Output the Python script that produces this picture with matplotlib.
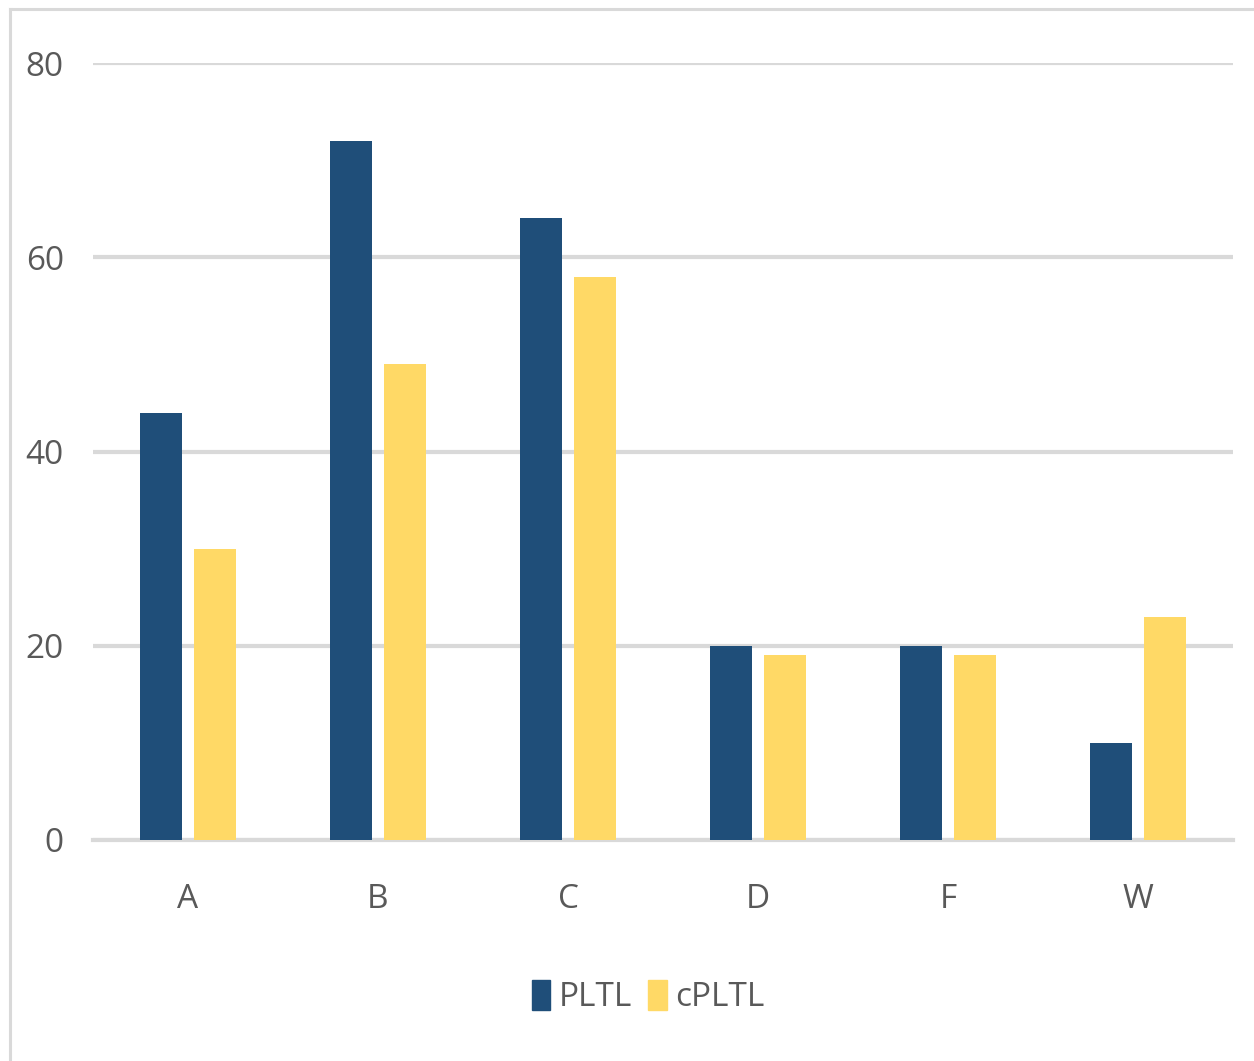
import matplotlib
matplotlib.use("Agg")
import matplotlib.pyplot as plt
from matplotlib import font_manager
from matplotlib.lines import Line2D
from matplotlib.patches import Patch
import numpy as np

categories = ["A", "B", "C", "D", "F", "W"]
pltl = [44, 72, 64, 20, 20, 10]
cpltl = [30, 49, 58, 19, 19, 23]
yticks = [0, 20, 40, 60, 80]

fam = "DejaVu Sans"
for cand in ["Liberation Sans Narrow", "Open Sans", "Liberation Sans"]:
    try:
        font_manager.findfont(cand, fallback_to_default=False)
        fam = cand
        break
    except Exception:
        pass
plt.rcParams["font.family"] = [fam, "DejaVu Sans"]

TXT = "#595959"
GRID = "#d9d9d9"
FS = 24

fig = plt.figure(figsize=(12.54, 10.61), dpi=100)
ax = fig.add_axes([93/1254, 1-840/1061, (1233-93)/1254, (840-63)/1061])

x = np.arange(len(categories))
w = 0.226
off = 0.142
ax.bar(x - off, pltl, w, color="#1F4E79", label="PLTL", zorder=3)
ax.bar(x + off, cpltl, w, color="#FFD966", label="cPLTL", zorder=3)

ax.set_xlim(-0.5, len(categories) - 0.5)
ax.set_ylim(0, 80)
ax.set_yticks(yticks)
ax.set_xticks(x)
ax.set_xticklabels(categories)
ax.yaxis.grid(True, color=GRID, linewidth=3, zorder=0)
ax.set_axisbelow(True)
for s in ax.spines.values():
    s.set_visible(False)
ax.axhline(0, color=GRID, linewidth=3, zorder=2, clip_on=False)
ax.tick_params(axis="both", length=0, labelsize=FS, labelcolor=TXT)
ax.tick_params(axis="y", pad=21)
ax.tick_params(axis="x", pad=31)
for lab in ax.get_yticklabels():
    lab.set_clip_on(False)

leg = fig.legend(
    handles=[Patch(color="#1F4E79", label="PLTL"), Patch(color="#FFD966", label="cPLTL")],
    loc="center", bbox_to_anchor=(648/1254, 1-997/1061), ncol=2, frameon=False,
    fontsize=FS, handlelength=0.55, handleheight=1.0, handletextpad=0.25,
    columnspacing=0.5, labelcolor=TXT,
)

# chart border (left and top)
fig.add_artist(Line2D([9.5/1254, 9.5/1254], [0, 1-9/1061], color=GRID, lw=2.2, transform=fig.transFigure))
fig.add_artist(Line2D([9.5/1254, 1], [1-9/1061, 1-9/1061], color=GRID, lw=2.2, transform=fig.transFigure))

fig.savefig("out.png", dpi=100)
